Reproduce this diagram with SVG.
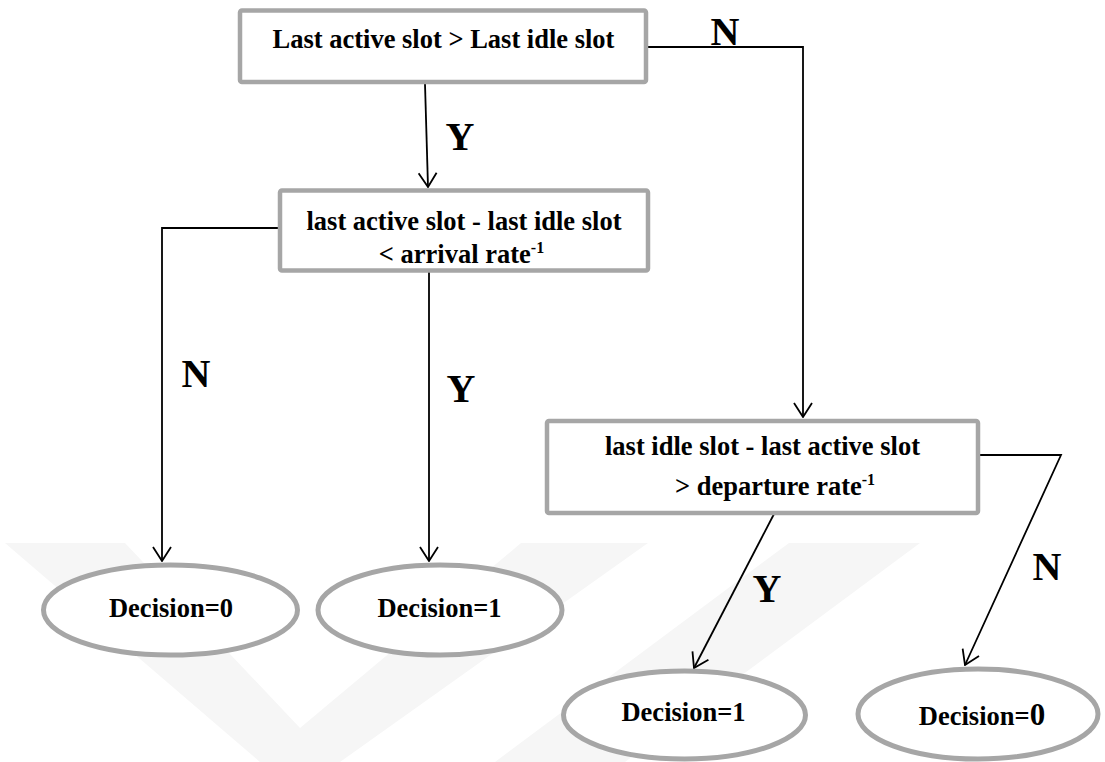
<svg xmlns="http://www.w3.org/2000/svg" width="1105" height="762" viewBox="0 0 1105 762">
<style>
.box{fill:#ffffff;stroke:#a6a6a6;stroke-width:4.5;stroke-linejoin:round}
.ell{fill:#ffffff;stroke:#a6a6a6;stroke-width:5}
.t{font-family:"Liberation Serif","Times New Roman",serif;font-weight:bold;font-size:26.5px;fill:#000;text-anchor:middle}
.sup{font-size:16px}
.lbl{font-family:"Liberation Serif","Times New Roman",serif;font-weight:bold;font-size:40px;fill:#000;text-anchor:middle}
.c{fill:none;stroke:#000;stroke-width:1.8}
.wm{fill:#f6f6f6}
</style>
<defs>
<marker id="arr" markerUnits="userSpaceOnUse" viewBox="0 0 16 20" markerWidth="16" markerHeight="20" refX="15" refY="10" orient="auto">
<path d="M1,1 L15,10 L1,19" fill="none" stroke="#000" stroke-width="1.8"/>
</marker>
</defs>
<rect width="1105" height="762" fill="#ffffff"/>
<g id="watermark">
<polygon class="wm" points="5,543 125,543 300,728 521,543 648,543 340,762 260,762"/>
<polygon class="wm" points="789,543 920,543 625,762 495,762"/>
</g>
<g id="connectors">
<line class="c" x1="425" y1="84" x2="428" y2="187" marker-end="url(#arr)"/>
<polyline class="c" points="648,47 803,47 803,417" marker-end="url(#arr)"/>
<polyline class="c" points="279,228 162,228 162,561" marker-end="url(#arr)"/>
<line class="c" x1="429" y1="272" x2="429" y2="561" marker-end="url(#arr)"/>
<line class="c" x1="774" y1="514" x2="694" y2="668" marker-end="url(#arr)"/>
<polyline class="c" points="979,455 1061,455 965,665" marker-end="url(#arr)"/>
</g>
<g id="labels">
<text class="lbl" x="725" y="45">N</text>
<text class="lbl" x="460" y="150">Y</text>
<text class="lbl" x="196" y="387">N</text>
<text class="lbl" x="461" y="402">Y</text>
<text class="lbl" x="767" y="602">Y</text>
<text class="lbl" x="1047" y="580">N</text>
</g>
<g id="node-start">
<rect class="box" x="240" y="10.5" width="406" height="71.5" rx="2"/>
<text class="t" x="443.5" y="48">Last active slot &gt; Last idle slot</text>
</g>
<g id="node-arrival">
<rect class="box" x="280" y="190.5" width="368" height="80" rx="2"/>
<text class="t" x="464" y="230">last active slot - last idle slot</text>
<text class="t" x="461.5" y="263">&lt; arrival rate<tspan class="sup" dy="-10">-1</tspan></text>
</g>
<g id="node-departure">
<rect class="box" x="547" y="421" width="431" height="92" rx="2"/>
<text class="t" x="762.5" y="455">last idle slot - last active slot</text>
<text class="t" x="775" y="495">&gt; departure rate<tspan class="sup" dy="-10">-1</tspan></text>
</g>
<g id="node-d0-left">
<ellipse class="ell" cx="170.5" cy="610" rx="127" ry="45"/>
<text class="t" x="171" y="617">Decision=0</text>
</g>
<g id="node-d1-left">
<ellipse class="ell" cx="440" cy="610" rx="122" ry="45"/>
<text class="t" x="439.5" y="617">Decision=1</text>
</g>
<g id="node-d1-right">
<ellipse class="ell" cx="684.5" cy="715" rx="121" ry="44"/>
<text class="t" x="683.5" y="721">Decision=1</text>
</g>
<g id="node-d0-right">
<ellipse class="ell" cx="978" cy="714" rx="120" ry="45"/>
<text class="t" x="982" y="725">Decision=<tspan font-size="31px">0</tspan></text>
</g>
</svg>
